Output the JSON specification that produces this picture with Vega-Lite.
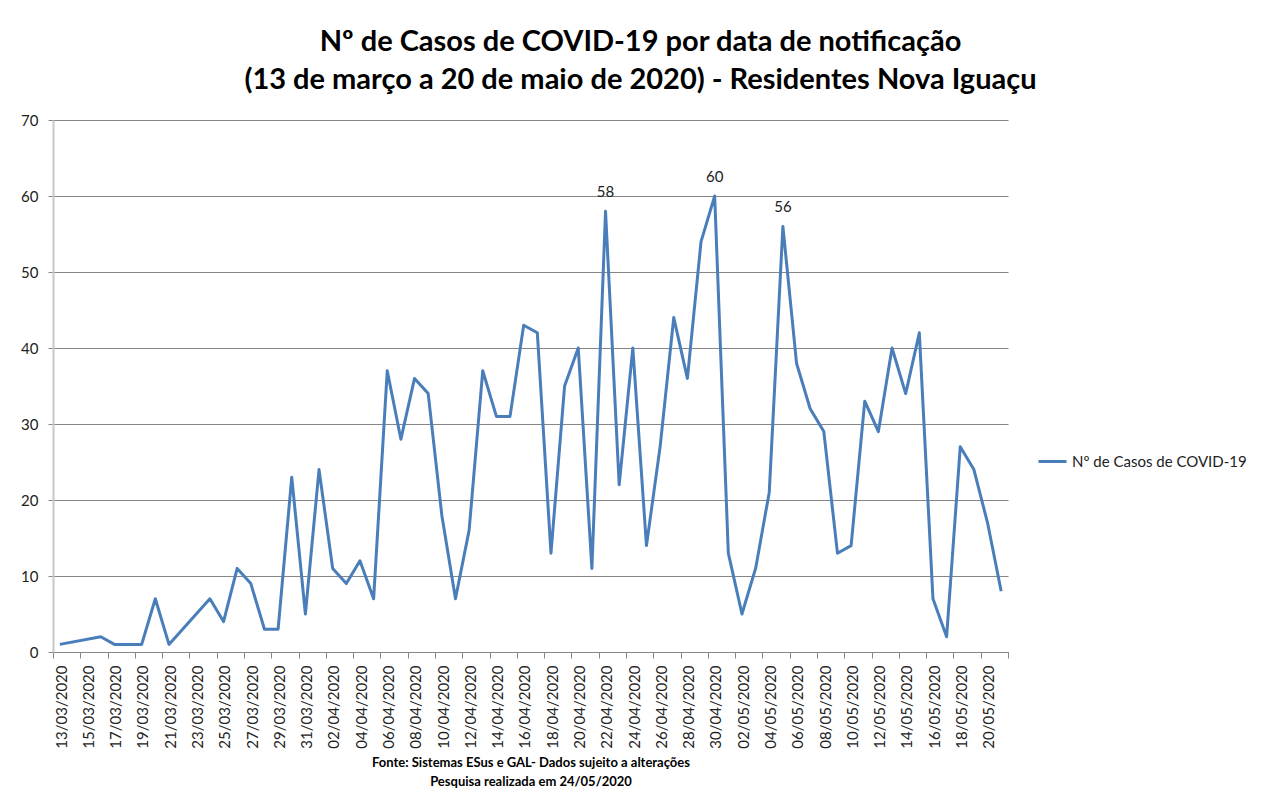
{
  "$schema": "https://vega.github.io/schema/vega-lite/v6.json",
  "width": 955,
  "height": 532,
  "autosize": {"type": "none"},
  "padding": {"left": 53, "top": 120, "right": 255, "bottom": 153},
  "background": "white",
  "title": {
    "text": ["Nº de Casos de COVID-19 por data de notificação", "(13 de março a 20 de maio de 2020) - Residentes Nova Iguaçu"],
    "font": "Lato",
    "fontSize": 29,
    "fontWeight": "bold",
    "color": "#000000",
    "lineHeight": 38,
    "anchor": "middle",
    "dx": 110,
    "offset": 18
  },
  "data": {
    "values": [
      {"dia": "13/03/2020", "casos": 1},
      {"dia": "16/03/2020", "casos": 2},
      {"dia": "17/03/2020", "casos": 1},
      {"dia": "18/03/2020", "casos": 1},
      {"dia": "19/03/2020", "casos": 1},
      {"dia": "20/03/2020", "casos": 7},
      {"dia": "21/03/2020", "casos": 1},
      {"dia": "24/03/2020", "casos": 7},
      {"dia": "25/03/2020", "casos": 4},
      {"dia": "26/03/2020", "casos": 11},
      {"dia": "27/03/2020", "casos": 9},
      {"dia": "28/03/2020", "casos": 3},
      {"dia": "29/03/2020", "casos": 3},
      {"dia": "30/03/2020", "casos": 23},
      {"dia": "31/03/2020", "casos": 5},
      {"dia": "01/04/2020", "casos": 24},
      {"dia": "02/04/2020", "casos": 11},
      {"dia": "03/04/2020", "casos": 9},
      {"dia": "04/04/2020", "casos": 12},
      {"dia": "05/04/2020", "casos": 7},
      {"dia": "06/04/2020", "casos": 37},
      {"dia": "07/04/2020", "casos": 28},
      {"dia": "08/04/2020", "casos": 36},
      {"dia": "09/04/2020", "casos": 34},
      {"dia": "10/04/2020", "casos": 18},
      {"dia": "11/04/2020", "casos": 7},
      {"dia": "12/04/2020", "casos": 16},
      {"dia": "13/04/2020", "casos": 37},
      {"dia": "14/04/2020", "casos": 31},
      {"dia": "15/04/2020", "casos": 31},
      {"dia": "16/04/2020", "casos": 43},
      {"dia": "17/04/2020", "casos": 42},
      {"dia": "18/04/2020", "casos": 13},
      {"dia": "19/04/2020", "casos": 35},
      {"dia": "20/04/2020", "casos": 40},
      {"dia": "21/04/2020", "casos": 11},
      {"dia": "22/04/2020", "casos": 58},
      {"dia": "23/04/2020", "casos": 22},
      {"dia": "24/04/2020", "casos": 40},
      {"dia": "25/04/2020", "casos": 14},
      {"dia": "26/04/2020", "casos": 27},
      {"dia": "27/04/2020", "casos": 44},
      {"dia": "28/04/2020", "casos": 36},
      {"dia": "29/04/2020", "casos": 54},
      {"dia": "30/04/2020", "casos": 60},
      {"dia": "01/05/2020", "casos": 13},
      {"dia": "02/05/2020", "casos": 5},
      {"dia": "03/05/2020", "casos": 11},
      {"dia": "04/05/2020", "casos": 21},
      {"dia": "05/05/2020", "casos": 56},
      {"dia": "06/05/2020", "casos": 38},
      {"dia": "07/05/2020", "casos": 32},
      {"dia": "08/05/2020", "casos": 29},
      {"dia": "09/05/2020", "casos": 13},
      {"dia": "10/05/2020", "casos": 14},
      {"dia": "11/05/2020", "casos": 33},
      {"dia": "12/05/2020", "casos": 29},
      {"dia": "13/05/2020", "casos": 40},
      {"dia": "14/05/2020", "casos": 34},
      {"dia": "15/05/2020", "casos": 42},
      {"dia": "16/05/2020", "casos": 7},
      {"dia": "17/05/2020", "casos": 2},
      {"dia": "18/05/2020", "casos": 27},
      {"dia": "19/05/2020", "casos": 24},
      {"dia": "20/05/2020", "casos": 17},
      {"dia": "21/05/2020", "casos": 8}
    ],
    "format": {"parse": {"dia": "date:'%d/%m/%Y'"}}
  },
  "encoding": {
    "x": {
      "field": "dia",
      "type": "temporal",
      "scale": {
        "domain": [
          {"year": 2020, "month": 3, "date": 12, "hours": 12},
          {"year": 2020, "month": 5, "date": 21, "hours": 12}
        ],
        "nice": false
      },
      "axis": {
        "title": ["Fonte: Sistemas ESus e GAL- Dados sujeito a alterações", "Pesquisa realizada em 24/05/2020"],
        "titleFont": "Lato",
        "titleFontSize": 13,
        "titleFontWeight": "bold",
        "titleColor": "#000000",
        "titleLineHeight": 19,
        "titlePadding": 8,
        "values": [
          {"year": 2020, "month": 3, "date": 12, "hours": 12},
          {"year": 2020, "month": 3, "date": 14, "hours": 12},
          {"year": 2020, "month": 3, "date": 16, "hours": 12},
          {"year": 2020, "month": 3, "date": 18, "hours": 12},
          {"year": 2020, "month": 3, "date": 20, "hours": 12},
          {"year": 2020, "month": 3, "date": 22, "hours": 12},
          {"year": 2020, "month": 3, "date": 24, "hours": 12},
          {"year": 2020, "month": 3, "date": 26, "hours": 12},
          {"year": 2020, "month": 3, "date": 28, "hours": 12},
          {"year": 2020, "month": 3, "date": 30, "hours": 12},
          {"year": 2020, "month": 4, "date": 1, "hours": 12},
          {"year": 2020, "month": 4, "date": 3, "hours": 12},
          {"year": 2020, "month": 4, "date": 5, "hours": 12},
          {"year": 2020, "month": 4, "date": 7, "hours": 12},
          {"year": 2020, "month": 4, "date": 9, "hours": 12},
          {"year": 2020, "month": 4, "date": 11, "hours": 12},
          {"year": 2020, "month": 4, "date": 13, "hours": 12},
          {"year": 2020, "month": 4, "date": 15, "hours": 12},
          {"year": 2020, "month": 4, "date": 17, "hours": 12},
          {"year": 2020, "month": 4, "date": 19, "hours": 12},
          {"year": 2020, "month": 4, "date": 21, "hours": 12},
          {"year": 2020, "month": 4, "date": 23, "hours": 12},
          {"year": 2020, "month": 4, "date": 25, "hours": 12},
          {"year": 2020, "month": 4, "date": 27, "hours": 12},
          {"year": 2020, "month": 4, "date": 29, "hours": 12},
          {"year": 2020, "month": 5, "date": 1, "hours": 12},
          {"year": 2020, "month": 5, "date": 3, "hours": 12},
          {"year": 2020, "month": 5, "date": 5, "hours": 12},
          {"year": 2020, "month": 5, "date": 7, "hours": 12},
          {"year": 2020, "month": 5, "date": 9, "hours": 12},
          {"year": 2020, "month": 5, "date": 11, "hours": 12},
          {"year": 2020, "month": 5, "date": 13, "hours": 12},
          {"year": 2020, "month": 5, "date": 15, "hours": 12},
          {"year": 2020, "month": 5, "date": 17, "hours": 12},
          {"year": 2020, "month": 5, "date": 19, "hours": 12},
          {"year": 2020, "month": 5, "date": 21, "hours": 12}
        ],
        "labelExpr": "time(datum.value) >= time(datetime(2020,4,21,0,0,0,0)) ? '' : timeFormat(time(datum.value) + 43200000, '%d/%m/%Y')",
        "labelAngle": -90,
        "labelOffset": 8,
        "labelPadding": 7,
        "labelFont": "Lato",
        "labelFontSize": 15,
        "labelColor": "#222222",
        "labelOverlap": false,
        "labelBound": false,
        "labelFlush": false,
        "domainColor": "#868686",
        "domainWidth": 1,
        "tickColor": "#868686",
        "tickSize": 6,
        "grid": false
      }
    },
    "y": {
      "field": "casos",
      "type": "quantitative",
      "scale": {"domain": [0, 70], "nice": false, "zero": true},
      "axis": {
        "title": null,
        "values": [0, 10, 20, 30, 40, 50, 60, 70],
        "labelFont": "Lato",
        "labelFontSize": 15,
        "labelColor": "#222222",
        "labelPadding": 10,
        "domainColor": "#c8c8c8",
        "domainWidth": 2,
        "tickColor": "#868686",
        "tickSize": 5,
        "grid": true,
        "gridColor": "#868686",
        "gridWidth": 1
      }
    }
  },
  "layer": [
    {
      "mark": {"type": "line", "strokeWidth": 3, "strokeJoin": "round"},
      "encoding": {
        "color": {
          "datum": "Nº de Casos de COVID-19",
          "type": "nominal",
          "scale": {"range": ["#4A7EBB"]},
          "legend": {
            "title": null,
            "orient": "none",
            "legendX": 984,
            "legendY": 326,
            "padding": 0,
            "symbolType": "stroke",
            "symbolSize": 784,
            "symbolStrokeWidth": 3,
            "labelFont": "Lato",
            "labelFontSize": 15,
            "labelColor": "#222222",
            "labelOffset": 4,
            "labelLimit": 0
          }
        }
      }
    },
    {
      "transform": [{"filter": "datum.casos >= 55"}],
      "mark": {"type": "text", "font": "Lato", "fontSize": 15, "color": "#222222", "baseline": "alphabetic", "dy": -14},
      "encoding": {
        "text": {"field": "casos", "type": "quantitative"}
      }
    }
  ],
  "config": {
    "view": {"stroke": null}
  }
}
